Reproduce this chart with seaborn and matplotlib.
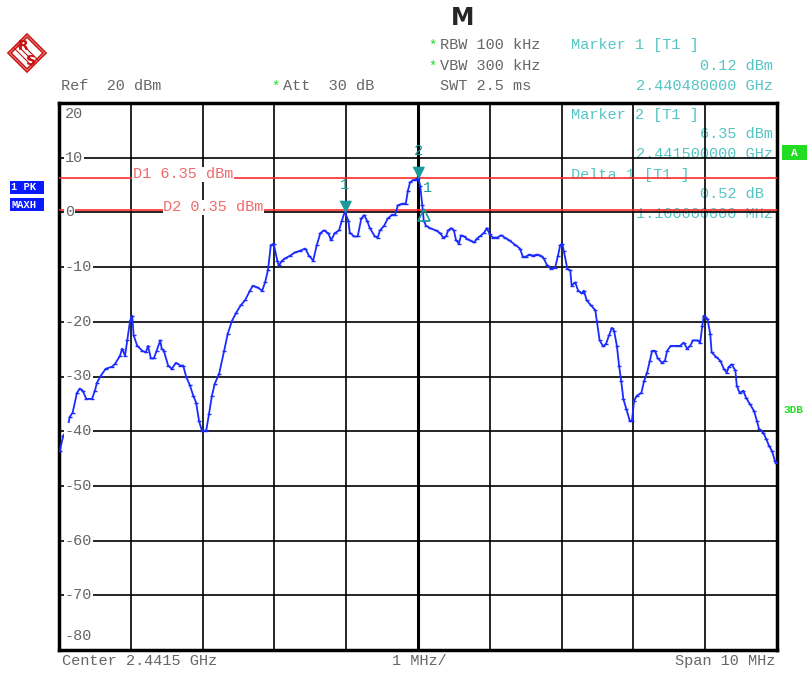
import numpy as np
import pandas as pd
import matplotlib
matplotlib.use("Agg")
import matplotlib.pyplot as plt
from matplotlib.patches import Polygon, Rectangle
import seaborn as sns

# trace: offset from center (MHz), level (dBm)
freq_mhz = [-4.99, -4.94, -4.89, -4.85, -4.81, -4.75, -4.71, -4.67, -4.62, -4.54,
            -4.50, -4.47, -4.42, -4.35, -4.26, -4.22, -4.15, -4.12, -4.08, -4.05,
            -4.01, -3.98, -3.96, -3.91, -3.84, -3.79, -3.76, -3.72, -3.68, -3.64,
            -3.59, -3.57, -3.54, -3.48, -3.43, -3.37, -3.31, -3.27, -3.23, -3.18,
            -3.13, -3.09, -3.05, -3.01, -2.95, -2.91, -2.87, -2.83, -2.77, -2.70,
            -2.65, -2.59, -2.53, -2.47, -2.41, -2.34, -2.30, -2.24, -2.17, -2.13,
            -2.09, -2.05, -2.01, -1.96, -1.94, -1.89, -1.85, -1.78, -1.71, -1.64,
            -1.57, -1.52, -1.46, -1.41, -1.36, -1.31, -1.25, -1.21, -1.16, -1.10,
            -1.06, -1.02, -0.97, -0.95, -0.89, -0.84, -0.79, -0.75, -0.71, -0.67,
            -0.60, -0.56, -0.53, -0.47, -0.42, -0.36, -0.32, -0.28, -0.22, -0.17,
            -0.14, -0.11, -0.07, -0.03, 0.00, 0.03, 0.06, 0.08, 0.11, 0.17,
            0.25, 0.31, 0.35, 0.39, 0.42, 0.46, 0.50, 0.53, 0.57, 0.60,
            0.64, 0.68, 0.72, 0.78, 0.82, 0.86, 0.92, 0.96, 1.00, 1.04,
            1.10, 1.16, 1.21, 1.27, 1.35, 1.42, 1.46, 1.50, 1.55, 1.60,
            1.66, 1.71, 1.75, 1.80, 1.85, 1.91, 1.95, 1.98, 2.01, 2.03,
            2.08, 2.12, 2.14, 2.19, 2.23, 2.28, 2.31, 2.35, 2.41, 2.47,
            2.49, 2.53, 2.58, 2.62, 2.66, 2.70, 2.73, 2.77, 2.80, 2.83,
            2.86, 2.90, 2.95, 2.98, 3.01, 3.05, 3.11, 3.15, 3.19, 3.23,
            3.26, 3.30, 3.34, 3.40, 3.44, 3.47, 3.52, 3.59, 3.65, 3.70,
            3.75, 3.79, 3.83, 3.89, 3.93, 3.96, 3.98, 4.03, 4.07, 4.09,
            4.15, 4.21, 4.26, 4.30, 4.33, 4.37, 4.42, 4.44, 4.48, 4.53,
            4.57, 4.62, 4.68, 4.72, 4.75, 4.81, 4.85, 4.89, 4.93, 4.97,
            4.99]
level_dbm = [-43.6, -40.8, -39.9, -37.4, -36.6, -33.0, -32.2, -32.6, -34.1, -34.1,
             -32.6, -31.1, -29.9, -28.6, -28.2, -27.7, -26.2, -24.9, -26.2, -23.4,
             -19.8, -18.9, -22.5, -24.4, -25.3, -25.6, -24.4, -26.7, -26.7, -25.3,
             -23.4, -24.9, -25.3, -28.0, -28.6, -27.5, -28.0, -28.0, -30.0, -31.5,
             -33.5, -34.8, -38.1, -39.9, -39.9, -36.8, -33.5, -31.3, -29.5, -25.3,
             -22.2, -19.8, -18.3, -17.0, -16.1, -14.3, -13.4, -13.7, -14.3, -12.8,
             -10.6, -6.0, -5.7, -8.8, -9.7, -8.8, -8.4, -7.9, -7.3, -7.0,
             -6.6, -7.9, -8.8, -6.0, -3.8, -3.3, -3.8, -5.1, -3.8, -3.3,
             -1.5, 0.12, -1.5, -3.7, -4.4, -4.4, -1.1, -0.5, -1.5, -2.9,
             -4.4, -4.6, -3.3, -2.4, -1.1, -0.4, -0.5, 1.3, 1.6, 1.6,
             4.0, 5.5, 5.9, 6.0, 6.35, 4.9, 1.3, -1.5, -2.4, -2.9,
             -3.3, -3.8, -4.6, -4.4, -3.3, -2.9, -3.3, -5.1, -5.7, -4.2,
             -4.4, -4.8, -5.1, -5.5, -4.8, -4.4, -3.7, -2.9, -4.0, -4.6,
             -4.6, -4.2, -4.6, -5.1, -5.9, -6.6, -8.1, -8.1, -7.7, -7.9,
             -7.7, -7.9, -8.4, -9.7, -10.3, -10.1, -7.9, -6.0, -5.7, -7.0,
             -10.3, -10.6, -13.4, -12.8, -14.3, -14.8, -14.3, -16.1, -17.0, -17.9,
             -19.8, -23.4, -24.5, -24.0, -22.5, -21.1, -21.6, -24.4, -28.0, -30.8,
             -34.1, -35.9, -38.1, -38.1, -34.4, -33.5, -33.0, -30.8, -29.3, -27.1,
             -25.3, -25.3, -26.7, -27.5, -27.1, -25.3, -24.4, -24.4, -24.4, -23.8,
             -24.9, -24.4, -23.4, -23.4, -23.8, -20.7, -18.9, -19.4, -22.2, -25.6,
             -26.4, -27.1, -28.6, -29.3, -28.2, -27.8, -28.9, -31.7, -33.0, -32.6,
             -33.9, -35.0, -36.3, -38.1, -39.6, -40.3, -41.4, -42.7, -43.6, -45.4,
             -45.8]

marker_freq = [-1.02, 0.0]
marker_level = [0.12, 6.35]
marker_names = ["1", "2"]
delta_freq = 0.08
delta_level = 0.64
display_lines = [6.35, 0.35]
display_names = ["D1 6.35 dBm", "D2 0.35 dBm"]
display_label_x = [-3.97, -3.55]
y_ticks = list(range(-80, 30, 10))
x_ticks = list(range(-5, 6))

W, H = 810, 673
MONO = "Liberation Mono"
GRAY = "#666666"
CYAN = "#55c4c4"
TEAL = "#1a9a9a"
RED = "#ff2a2a"
LRED = "#f06a6a"
GREEN = "#22dd22"
BLUE = "#1a2bff"

sns.set_style("white")
plt.rcParams["font.family"] = [MONO, "DejaVu Sans"]


def fx(x):
    return x / W


def fy(y):
    return 1 - y / H


fig = plt.figure(figsize=(W / 100, H / 100), dpi=100)
ax = fig.add_axes([fx(59), fy(650), 718 / W, 547 / H])

df = pd.DataFrame({"freq": freq_mhz, "level": level_dbm})
sns.lineplot(data=df, x="freq", y="level", ax=ax, sort=False, estimator=None,
             color=BLUE, lw=1.3, marker="_", markersize=3.5, markeredgewidth=1,
             markeredgecolor=BLUE, zorder=3)

ax.set_xlim(-5, 5)
ax.set_ylim(-80, 20)
ax.set_xticks(x_ticks)
ax.set_yticks(y_ticks)
ax.set_axisbelow(False)
ax.grid(True, color="black", lw=1.2)
ax.tick_params(length=0, labelbottom=False, labelleft=False)
ax.set_xlabel("")
ax.set_ylabel("")
ax.axvline(0, color="black", lw=2.2, zorder=2.6)
for sp in ax.spines.values():
    sp.set_linewidth(2.5)
    sp.set_color("black")

# y level labels sitting on the grid lines
for v in y_ticks:
    yv = v
    if v == 20:
        yv = 18
    elif v == -80:
        yv = -77.4
    ax.text(0.008, yv, str(v), transform=ax.get_yaxis_transform(), fontsize=11,
            color=GRAY, va="center", ha="left", zorder=4,
            bbox=dict(fc="white", ec="none", pad=0.5))

# display lines
for lv, name, lx in zip(display_lines, display_names, display_label_x):
    ax.axhline(lv, color=RED, lw=1.2, zorder=2.7)
    ax.text(lx, lv + 0.6, name, fontsize=11, color=LRED, va="center", ha="left",
            zorder=2.8, bbox=dict(fc="white", ec="none", pad=0.3))

# markers
for f, lv, name in zip(marker_freq, marker_level, marker_names):
    ax.plot(f, lv, marker=[(-1, 2), (1, 2), (0, 0)], ms=16, color=TEAL,
            mec=TEAL, zorder=5)
    ax.annotate(name, (f, lv), xytext=(0, 14), textcoords="offset points",
                fontsize=11, color=TEAL, ha="center", va="bottom", zorder=5)
ax.plot(delta_freq, delta_level - 1.1, marker="^", ms=8, mfc="none", mec=TEAL,
        mew=1.2, zorder=5)
ax.annotate("1", (delta_freq, delta_level), xytext=(3, 10),
            textcoords="offset points", fontsize=11, color=TEAL, ha="center",
            va="bottom", zorder=5)

# marker readouts inside the grid (drawn under the grid lines)
inner = [
    (571, 115, "Marker 2 [T1 ]", "left"),
    (773, 134, "6.35 dBm", "right"),
    (773, 154, "2.441500000 GHz", "right"),
    (571, 175, "Delta 1 [T1 ]", "left"),
    (773, 194, "0.52 dB ", "right"),
    (773, 214, "1.100000000 MHz", "right"),
]
for x, y, s, ha in inner:
    ax.text(fx(x), fy(y), s, transform=fig.transFigure, fontsize=11,
            color=CYAN, ha=ha, va="center", zorder=2)

# header
fig.text(fx(463), fy(18), "M", fontsize=17, fontweight="bold",
         family="DejaVu Sans", ha="center", va="center")
fig.text(fx(61), fy(86), "Ref  20 dBm", fontsize=11, color=GRAY, va="center")
fig.text(fx(276), fy(87), "*", fontsize=10, color=GREEN, va="center", ha="center")
fig.text(fx(283), fy(86), "Att  30 dB", fontsize=11, color=GRAY, va="center")
fig.text(fx(433), fy(46), "*", fontsize=10, color=GREEN, va="center", ha="center")
fig.text(fx(440), fy(45), "RBW 100 kHz", fontsize=11, color=GRAY, va="center")
fig.text(fx(433), fy(67), "*", fontsize=10, color=GREEN, va="center", ha="center")
fig.text(fx(440), fy(66), "VBW 300 kHz", fontsize=11, color=GRAY, va="center")
fig.text(fx(440), fy(86), "SWT 2.5 ms", fontsize=11, color=GRAY, va="center")
fig.text(fx(571), fy(45), "Marker 1 [T1 ]", fontsize=11, color=CYAN, va="center")
fig.text(fx(773), fy(66), "0.12 dBm", fontsize=11, color=CYAN, va="center", ha="right")
fig.text(fx(773), fy(86), "2.440480000 GHz", fontsize=11, color=CYAN, va="center",
         ha="right")

# footer
fig.text(fx(62), fy(661), "Center 2.4415 GHz", fontsize=11, color=GRAY, va="center")
fig.text(fx(419), fy(661), "1 MHz/", fontsize=11, color=GRAY, va="center", ha="center")
fig.text(fx(775), fy(661), "Span 10 MHz", fontsize=11, color=GRAY, va="center",
         ha="right")

# side badges
for y0, label in [(181, "1 PK"), (198, "MAXH")]:
    fig.add_artist(Rectangle((fx(10), fy(y0 + 13)), 34 / W, 13 / H,
                             transform=fig.transFigure, fc="#0a1aff", ec="none"))
    fig.text(fx(11), fy(y0 + 6.5), label, fontsize=7.5, fontweight="bold",
             color="white", va="center", ha="left")
fig.add_artist(Rectangle((fx(782), fy(160)), 25 / W, 15 / H,
                         transform=fig.transFigure, fc=GREEN, ec="none"))
fig.text(fx(794.5), fy(152.5), "A", fontsize=8, fontweight="bold", color="white",
         va="center", ha="center")
fig.text(fx(783), fy(410), "3DB", fontsize=8, fontweight="bold", color=GREEN,
         va="center", ha="left")

# R&S logo
cx, cy, r = 27, 53, 19
for rr in (r, r - 3):
    fig.add_artist(Polygon([(fx(cx), fy(cy - rr)), (fx(cx + rr), fy(cy)),
                            (fx(cx), fy(cy + rr)), (fx(cx - rr), fy(cy))],
                           closed=True, transform=fig.transFigure,
                           fc="none", ec="#cc1111", lw=1.2))
for k in (-3, 0, 3):
    fig.add_artist(plt.Line2D([fx(cx - 10 + k), fx(cx + 8 + k)],
                              [fy(cy - 8 - k), fy(cy + 10 - k)],
                              transform=fig.transFigure, color="#cc1111", lw=0.8))
fig.text(fx(cx - 4), fy(cy - 7), "R", fontsize=10, fontweight="bold",
         family="DejaVu Sans", color="#cc1111", ha="center", va="center")
fig.text(fx(cx + 4), fy(cy + 8), "S", fontsize=10, fontweight="bold",
         family="DejaVu Sans", color="#cc1111", ha="center", va="center")

fig.savefig("out.png", dpi=100)
